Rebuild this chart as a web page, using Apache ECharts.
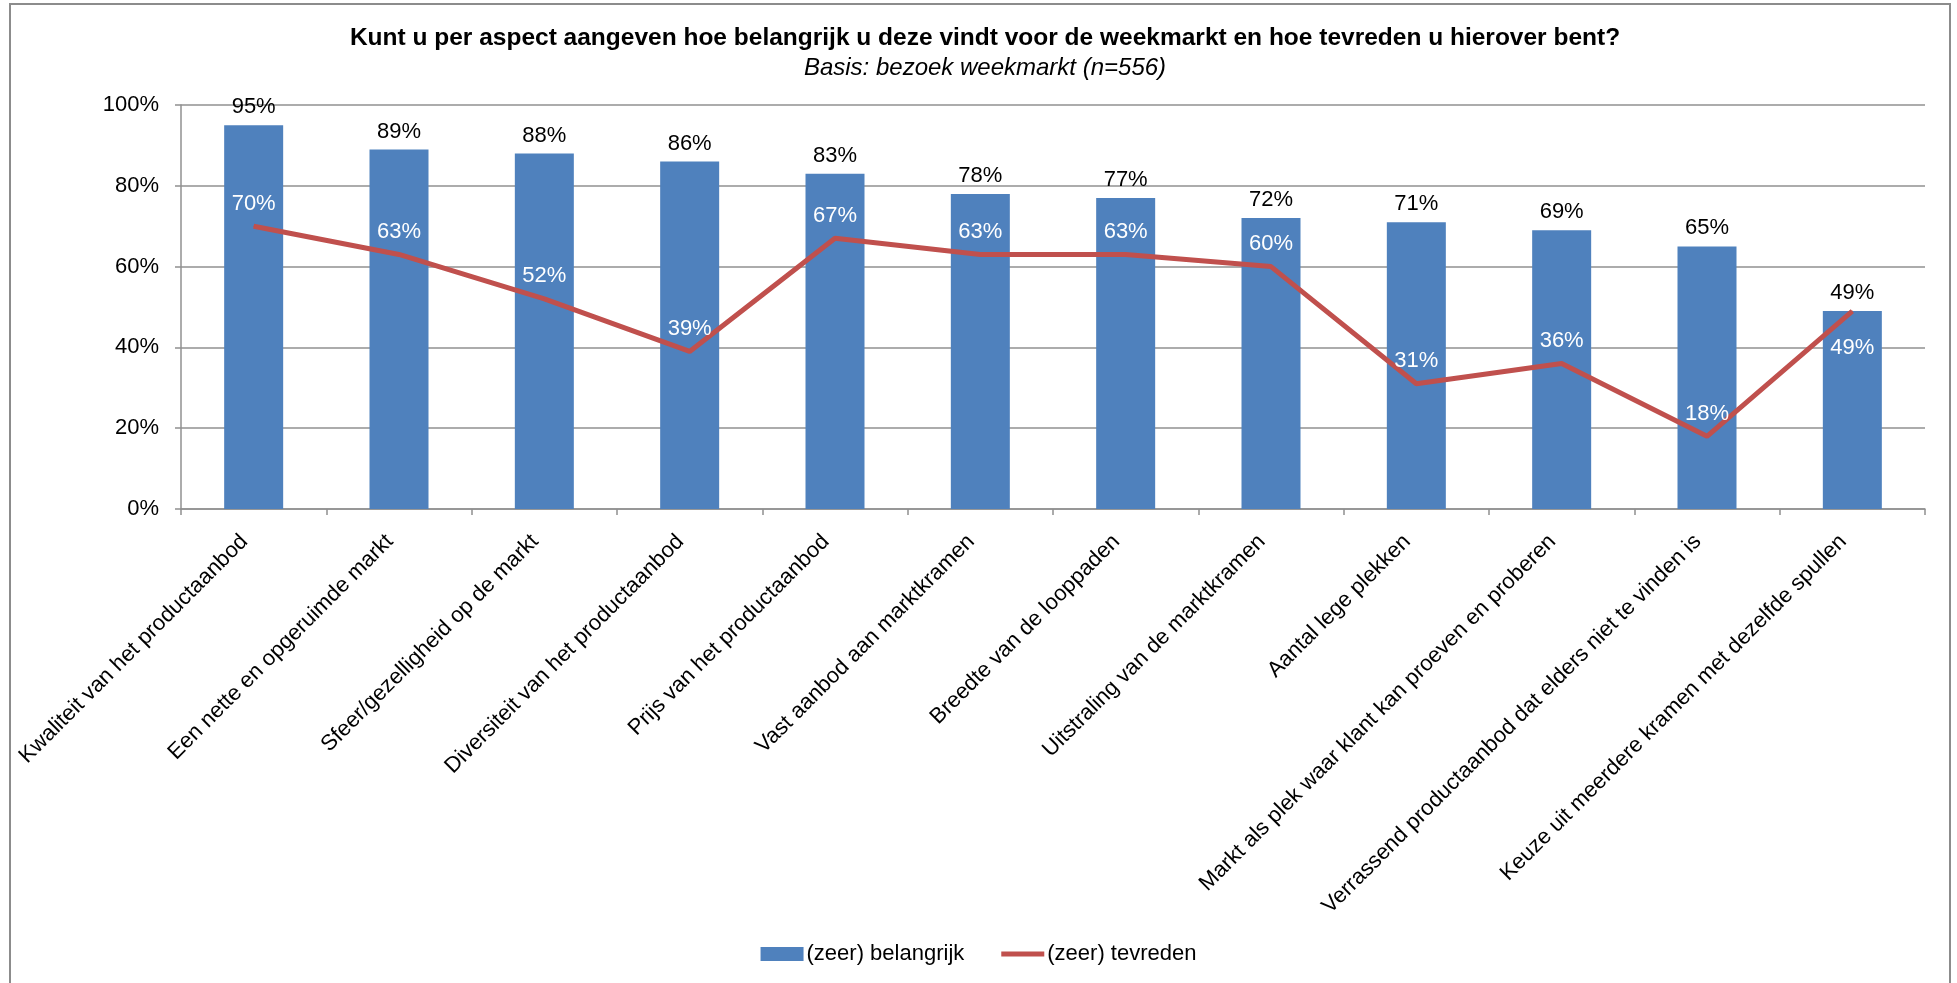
<!DOCTYPE html>
<html>
<head>
<meta charset="utf-8">
<title>Weekmarkt: belang en tevredenheid</title>
<script src="https://cdn.jsdelivr.net/npm/echarts@6/dist/echarts.min.js"></script>
<style>
  html, body { margin: 0; padding: 0; background: #ffffff; }
  #chart { width: 1957px; height: 983px; }
</style>
</head>
<body>
<div id="chart"></div>
<script>
// Aspects of the weekly market
const categories = [
  'Kwaliteit van het productaanbod',
  'Een nette en opgeruimde markt',
  'Sfeer/gezelligheid op de markt',
  'Diversiteit van het productaanbod',
  'Prijs van het productaanbod',
  'Vast aanbod aan marktkramen',
  'Breedte van de looppaden',
  'Uitstraling van de marktkramen',
  'Aantal lege plekken',
  'Markt als plek waar klant kan proeven en proberen',
  'Verrassend productaanbod dat elders niet te vinden is',
  'Keuze uit meerdere kramen met dezelfde spullen'
];

// Share (in %) rating the aspect as (very) important
const belangrijk = [95, 89, 88, 86, 83, 78, 77, 72, 71, 69, 65, 49];
// Share (in %) (very) satisfied with the aspect
const tevreden = [70, 63, 52, 39, 67, 63, 63, 60, 31, 36, 18, 49];

const yTicks = [0, 20, 40, 60, 80, 100];

const seriesNames = ['(zeer) belangrijk', '(zeer) tevreden'];
const titleText = 'Kunt u per aspect aangeven hoe belangrijk u deze vindt voor de weekmarkt en hoe tevreden u hierover bent?';
const subtitleText = 'Basis: bezoek weekmarkt (n=556)';

const FONT = '"Liberation Sans", Arial, Helvetica, sans-serif';
const BLUE = '#4F81BD';
const RED = '#C0504D';
const GRID = '#909090';
const FS = 22;

const chart = echarts.init(document.getElementById('chart'), null, { renderer: 'canvas' });

// line labels sit above the point, except the last one which sits below
const tevredenData = tevreden.map((v, i) => {
  const last = i === tevreden.length - 1;
  return {
    value: v,
    label: last ? { position: 'bottom', distance: 25 } : { position: 'top', distance: 11 }
  };
});

// legend swatch for the line: a thick horizontal stroke centred in the icon box
const lineIcon = 'path://M0,0L43,0L43,0.01L0,0.01Z M0,4.5L43,4.5L43,9.5L0,9.5Z M0,13.99L43,13.99L43,14L0,14Z';

chart.setOption({
  animation: false,
  textStyle: { fontFamily: FONT },
  graphic: [{
    type: 'rect',
    shape: { x: 10, y: 4, width: 1940, height: 990 },
    style: { fill: 'none', stroke: '#8c8c8c', lineWidth: 2 },
    silent: true,
    z: -10
  }],
  title: {
    text: titleText,
    subtext: subtitleText,
    left: 980,
    textAlign: 'center',
    top: 21,
    itemGap: 5,
    textStyle: { fontFamily: FONT, fontSize: 24.5, fontWeight: 'bold', color: '#000' },
    subtextStyle: { fontFamily: FONT, fontSize: 24, fontStyle: 'italic', color: '#000' }
  },
  legend: {
    bottom: 13,
    left: 'center',
    itemWidth: 43,
    itemHeight: 14,
    itemGap: 37,
    textStyle: { fontFamily: FONT, fontSize: FS, color: '#000', padding: [0, 0, 0, -2] },
    data: [
      { name: seriesNames[0], icon: 'rect' },
      { name: seriesNames[1], icon: lineIcon }
    ]
  },
  grid: { left: 181, right: 32, top: 105, bottom: 474, containLabel: false },
  xAxis: {
    type: 'category',
    data: categories,
    axisLine: { lineStyle: { color: GRID, width: 1.5 } },
    axisTick: { show: true, alignWithLabel: false, length: 6, lineStyle: { color: GRID, width: 1.5 } },
    axisLabel: {
      interval: 0,
      rotate: 45,
      margin: 20,
      padding: [31, 13, 0, 0],
      fontFamily: FONT,
      fontSize: FS,
      color: '#000'
    }
  },
  yAxis: {
    type: 'value',
    min: 0,
    max: 100,
    interval: 20,
    axisLine: { show: true, lineStyle: { color: GRID, width: 1.5 } },
    axisTick: { show: true, length: 6, lineStyle: { color: GRID, width: 1.5 } },
    splitLine: { show: true, lineStyle: { color: GRID, width: 1.5 } },
    axisLabel: {
      margin: 22,
      fontFamily: FONT,
      fontSize: FS,
      color: '#000',
      formatter: v => (yTicks.indexOf(v) >= 0 ? v + '%' : '')
    }
  },
  series: [
    {
      name: seriesNames[0],
      type: 'bar',
      data: belangrijk,
      barWidth: 59,
      itemStyle: { color: BLUE },
      label: {
        show: true,
        position: 'top',
        distance: 7,
        fontFamily: FONT,
        fontSize: FS,
        color: '#000',
        formatter: '{c}%'
      },
      z: 2
    },
    {
      name: seriesNames[1],
      type: 'line',
      data: tevredenData,
      symbol: 'circle',
      symbolSize: 1,
      showSymbol: true,
      lineStyle: { color: RED, width: 5 },
      itemStyle: { color: RED },
      label: {
        show: true,
        fontFamily: FONT,
        fontSize: FS,
        color: '#ffffff',
        formatter: '{c}%'
      },
      z: 3
    }
  ]
});
</script>
</body>
</html>
